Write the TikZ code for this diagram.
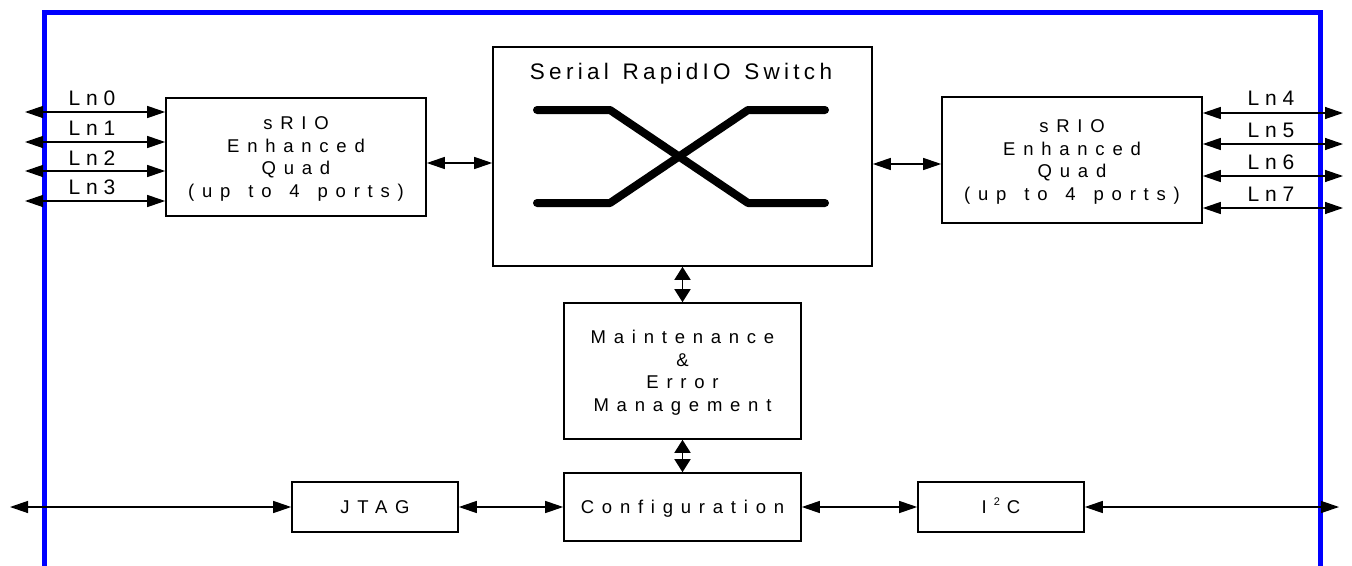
\documentclass[tikz,border=0pt]{standalone}
\usepackage{fontspec}
\setmainfont{Liberation Sans}
\newfontfamily\boxf[LetterSpace=42]{Liberation Sans}
\newfontfamily\lnf[LetterSpace=28]{Liberation Sans}
\newfontfamily\ttlf[LetterSpace=19,WordSpace=1.3]{Liberation Sans}
\usetikzlibrary{arrows.meta}
\newcommand\ws{\hspace{5pt}}
\begin{document}
\begin{tikzpicture}[x=1pt,y=-1pt,
  blk/.style={draw=black, line width=1.6pt, inner sep=0pt, align=center,
    text height=13.25pt, text depth=0pt,
    font=\boxf\fontsize{18.5}{22.7}\selectfont},
  four/.style={text height=81.35pt},
  link/.style={line width=1.3pt,
    {Triangle[length=18pt,width=12pt]}-{Triangle[length=18pt,width=12pt]}},
  vlink/.style={line width=1.6pt,
    {Triangle[length=13pt,width=16pt]}-{Triangle[length=13pt,width=16pt]}},
  lnlab/.style={font=\lnf\fontsize{21}{24}\selectfont, inner sep=0pt},
  border/.style={draw=blue, line width=5pt, line join=miter},
  xbar/.style={line width=8pt, line cap=round, line join=round}
]
\useasboundingbox (0,0) rectangle (1352,565);

% chip outline
\draw[border] (44,570) -- (44,12) -- (1320.5,12) -- (1320.5,570);

% blocks
\node[blk, four, minimum width=260pt, minimum height=118pt] (srioL) at (296,157)
  {sRIO\\Enhanced\\Quad\\(up \ws to \ws 4 \ws ports)};
\node[blk, minimum width=379pt, minimum height=219pt] (switch) at (682.5,156.5) {};
\node[blk, four, minimum width=260pt, minimum height=126pt] (srioR) at (1072,160)
  {sRIO\\Enhanced\\Quad\\(up \ws to \ws 4 \ws ports)};
\node[blk, four, minimum width=237pt, minimum height=136pt] (maint) at (682.5,371)
  {Maintenance\\\&\\Error\\Management};
\node[blk, minimum width=237pt, minimum height=68pt] (config) at (682.5,507)
  {Configuration};
\node[blk, minimum width=166pt, minimum height=50pt] (jtag) at (375,507) {JTAG};
\node[blk, minimum width=166pt, minimum height=50pt] (i2c) at (1001,507)
  {I\kern7pt\raisebox{8pt}{\fontsize{11}{11}\selectfont 2}\kern7pt C};

% switch contents
\node[font=\ttlf\fontsize{22.5}{26}\selectfont, inner sep=0pt] (title) at (681,74)
  {Serial RapidIO Switch};
\draw[xbar] (537,110) -- (610,110) -- (748,203) -- (825,203);
\draw[xbar] (537,203) -- (610,203) -- (748,110) -- (825,110);

% lanes left
\foreach \y/\ly/\n in {112/98.5/0, 142/128.5/1, 171/158/2, 201/187.5/3} {
  \coordinate (pl\n) at (25,\y);
  \draw[link] (pl\n) -- (srioL.west |- pl\n);
  \node[lnlab] (lnl\n) at (92,\ly) {Ln\n};
}
% lanes right
\foreach \y/\ly/\n in {113/98.7/4, 144/130.3/5, 176/162/6, 208/193.8/7} {
  \coordinate (pr\n) at (1343,\y);
  \draw[link] (srioR.east |- pr\n) -- (pr\n);
  \node[lnlab] (lnr\n) at (1271,\ly) {Ln\n};
}

% internal links
\coordinate (yl) at (0,163);
\coordinate (yr) at (0,164);
\draw[link] (srioL.east |- yl) -- (switch.west |- yl);
\draw[link] (switch.east |- yr) -- (srioR.west |- yr);
\draw[vlink] (switch.south) -- (maint.north);
\draw[vlink] (maint.south) -- (config.north);
\draw[link] (jtag.east) -- (config.west);
\draw[link] (config.east) -- (i2c.west);

% external bottom links
\coordinate (jx) at (10,507);
\coordinate (ix) at (1339,507);
\draw[link] (jx) -- (jtag.west);
\draw[link] (i2c.east) -- (ix);
\end{tikzpicture}
\end{document}
